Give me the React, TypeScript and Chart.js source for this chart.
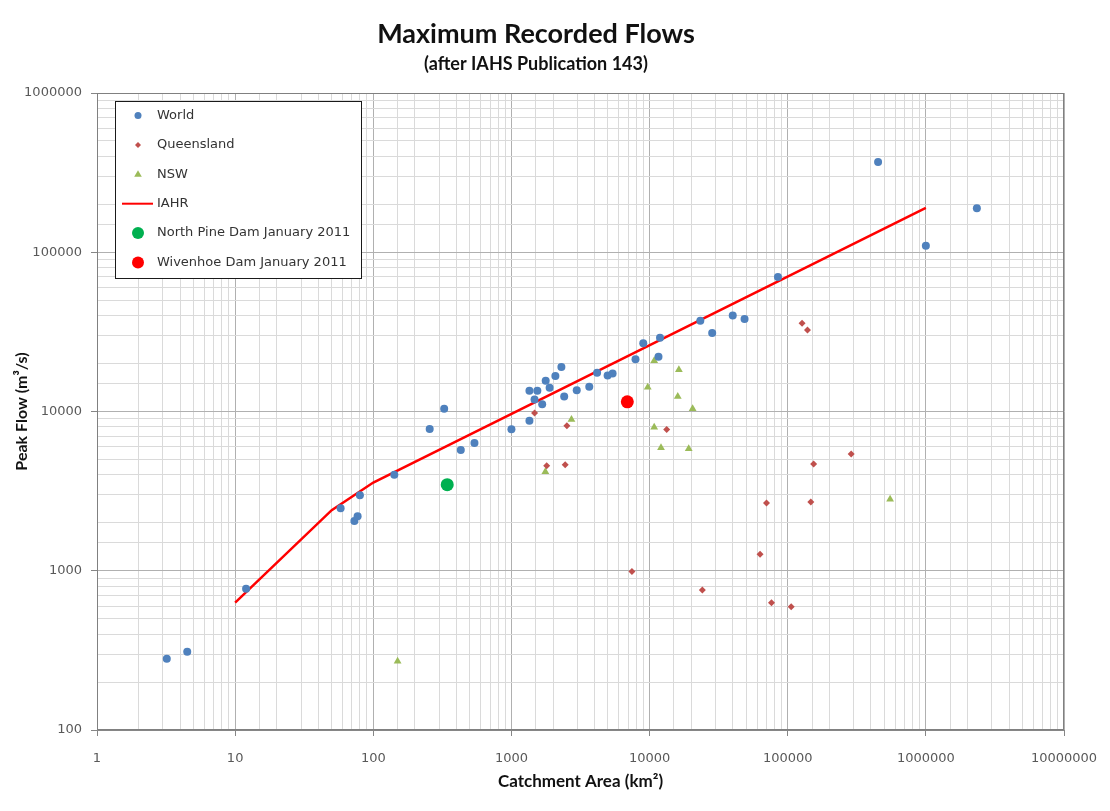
import React, { useEffect, useRef } from 'react';
import { Chart, registerables } from 'chart.js';

Chart.register(...registerables);

// ---- Data (catchment area km², peak flow m³/s) ----
const worldArea = [3.2, 4.5, 12, 58, 73, 77, 80, 142, 256, 326, 430, 540, 1000, 1350, 1350, 1470, 1540, 1670, 1770, 1890, 2080, 2300, 2410, 2970, 3660, 4170, 4970, 5400, 7910, 9000, 11600, 11900, 23300, 28400, 40000, 48700, 85000, 451000, 1000000, 2340000];
const worldFlow = [280, 310, 770, 2470, 2050, 2200, 2980, 4000, 7760, 10400, 5730, 6340, 7730, 8750, 13500, 11900, 13500, 11100, 15600, 14100, 16700, 19000, 12400, 13600, 14300, 17500, 16800, 17300, 21300, 26800, 22100, 29000, 37200, 31100, 40000, 38100, 70000, 369000, 110000, 189000];

const qldArea = [1470, 2520, 13300, 1800, 2450, 127000, 139000, 154000, 288000, 70200, 147000, 63100, 7450, 24100, 76300, 106000];
const qldFlow = [9800, 8150, 7700, 4570, 4630, 35800, 32500, 4680, 5410, 2660, 2700, 1270, 990, 757, 630, 595];

const nswArea = [150, 1760, 2720, 9700, 10800, 16300, 16000, 20500, 10800, 12100, 19200, 551000];
const nswFlow = [270, 4190, 8900, 14200, 20800, 18300, 12400, 10400, 7960, 5930, 5840, 2810];

const iahrArea = [10, 50, 100, 1000000];
const iahrFlow = [630, 2400, 3580, 190000];

const northPineArea = [343];
const northPineFlow = [3470];

const wivenhoeArea = [6900];
const wivenhoeFlow = [11500];

const xMin = 1;
const xMax = 10000000;
const yMin = 100;
const yMax = 1000000;

const titleText = 'Maximum Recorded Flows';
const subtitleText = '(after IAHS Publication 143)';
const xTitle = 'Catchment Area (km²)';
const yTitle = 'Peak Flow (m³/s)';

const toPts = (xs: number[], ys: number[]) => xs.map((x, i) => ({ x, y: ys[i] }));

const isDecade = (v: number) => {
  const l = Math.log10(v);
  return Math.abs(l - Math.round(l)) < 1e-9;
};

function drawMarker(ctx: CanvasRenderingContext2D, style: string, x: number, y: number, r: number, color: string) {
  ctx.fillStyle = color;
  ctx.beginPath();
  if (style === 'circle') {
    ctx.arc(x, y, r, 0, Math.PI * 2);
  } else if (style === 'rectRot') {
    ctx.moveTo(x, y - r);
    ctx.lineTo(x + r, y);
    ctx.lineTo(x, y + r);
    ctx.lineTo(x - r, y);
    ctx.closePath();
  } else if (style === 'triangle') {
    ctx.moveTo(x, y - r);
    ctx.lineTo(x + r * 0.95, y + r * 0.6);
    ctx.lineTo(x - r * 0.95, y + r * 0.6);
    ctx.closePath();
  }
  ctx.fill();
}

const boxLegend = {
  id: 'boxLegend',
  afterDraw(chart: any) {
    const { ctx, chartArea } = chart;
    ctx.save();
    // plot frame
    ctx.strokeStyle = '#808080';
    ctx.lineWidth = 1;
    ctx.strokeRect(chartArea.left + 0.5, chartArea.top + 0.5, chartArea.right - chartArea.left - 1, chartArea.bottom - chartArea.top - 1);

    const x0 = chartArea.left + 18;
    const y0 = chartArea.top + 8;
    const w = 246;
    const h = 177;
    ctx.fillStyle = '#ffffff';
    ctx.fillRect(x0, y0, w, h);
    ctx.strokeStyle = '#1a1a1a';
    ctx.lineWidth = 1;
    ctx.strokeRect(x0 + 0.5, y0 + 0.5, w, h);

    ctx.font = '13px "DejaVu Sans", sans-serif';
    ctx.textBaseline = 'middle';
    ctx.textAlign = 'left';
    chart.data.datasets.forEach((ds: any, i: number) => {
      const cy = y0 + 14.5 + i * 29.4;
      const mx = x0 + 23;
      if (ds.showLine) {
        ctx.strokeStyle = ds.borderColor;
        ctx.lineWidth = 2;
        ctx.beginPath();
        ctx.moveTo(x0 + 7, cy);
        ctx.lineTo(x0 + 38, cy);
        ctx.stroke();
      } else {
        drawMarker(ctx, ds.pointStyle, mx, cy, ds.legendRadius, ds.backgroundColor);
      }
      ctx.fillStyle = '#333333';
      ctx.fillText(ds.label, x0 + 42, cy);
    });
    ctx.restore();
  },
};

export default function App() {
  const ref = useRef<HTMLCanvasElement | null>(null);

  useEffect(() => {
    if (!ref.current) return;
    const gridColor = (c: any) => (c.tick && isDecade(c.tick.value) ? '#b0b0b0' : '#dadada');
    const tickMarkColor = (c: any) => (c.tick && isDecade(c.tick.value) ? '#868686' : 'rgba(0,0,0,0)');
    const chart = new Chart(ref.current, {
      type: 'scatter',
      data: {
        datasets: [
          {
            label: 'World',
            data: toPts(worldArea, worldFlow),
            pointStyle: 'circle',
            pointRadius: 4,
            backgroundColor: '#4F81BD',
            borderColor: '#4F81BD',
            borderWidth: 0,
            legendRadius: 3.5,
          } as any,
          {
            label: 'Queensland',
            data: toPts(qldArea, qldFlow),
            pointStyle: 'rectRot',
            pointRadius: 3.5,
            backgroundColor: '#C0504D',
            borderColor: '#C0504D',
            borderWidth: 0,
            legendRadius: 3,
          } as any,
          {
            label: 'NSW',
            data: toPts(nswArea, nswFlow),
            pointStyle: 'triangle',
            pointRadius: 4.5,
            backgroundColor: '#9BBB59',
            borderColor: '#9BBB59',
            borderWidth: 0,
            legendRadius: 4,
          } as any,
          {
            label: 'IAHR',
            data: toPts(iahrArea, iahrFlow),
            showLine: true,
            pointRadius: 0,
            borderColor: '#FF0000',
            backgroundColor: '#FF0000',
            borderWidth: 2.5,
            legendRadius: 0,
          } as any,
          {
            label: 'North Pine Dam January 2011',
            data: toPts(northPineArea, northPineFlow),
            pointStyle: 'circle',
            pointRadius: 6.5,
            backgroundColor: '#00B050',
            borderColor: '#00B050',
            borderWidth: 0,
            legendRadius: 6,
          } as any,
          {
            label: 'Wivenhoe Dam January 2011',
            data: toPts(wivenhoeArea, wivenhoeFlow),
            pointStyle: 'circle',
            pointRadius: 6.5,
            backgroundColor: '#FF0000',
            borderColor: '#FF0000',
            borderWidth: 0,
            legendRadius: 6,
          } as any,
        ],
      },
      options: {
        animation: false,
        responsive: false,
        layout: { padding: { left: 0, right: 38, top: 0, bottom: 0 } },
        plugins: {
          legend: { display: false },
          tooltip: { enabled: false },
          title: {
            display: true,
            text: titleText,
            color: '#111111',
            font: { family: 'Lato', size: 27, weight: 'bold' },
            padding: { top: 10, bottom: 3 },
          },
          subtitle: {
            display: true,
            text: subtitleText,
            color: '#111111',
            font: { family: 'Lato', size: 18, weight: 'bold' },
            padding: { top: 0, bottom: 18 },
          },
        },
        scales: {
          x: {
            type: 'logarithmic',
            min: xMin,
            max: xMax,
            afterFit: (s: any) => {
              s.height = 73;
              s.paddingLeft = 0;
              s.paddingRight = 0;
            },
            grid: { color: gridColor, tickColor: tickMarkColor, tickLength: 6, lineWidth: 1 },
            border: { color: '#868686', width: 1 },
            ticks: {
              autoSkip: false,
              maxRotation: 0,
              padding: 15,
              color: '#595959',
              font: { family: 'DejaVu Sans', size: 13 },
              callback: (v: any) => (isDecade(Number(v)) ? String(Math.round(Number(v))) : ''),
            },
            title: {
              display: true,
              text: xTitle,
              color: '#111111',
              font: { family: 'Lato', size: 17, weight: 'bold' },
              padding: { top: 0, bottom: 11 },
            },
          },
          y: {
            type: 'logarithmic',
            min: yMin,
            max: yMax,
            afterFit: (s: any) => {
              s.width = 89;
            },
            grid: { color: gridColor, tickColor: tickMarkColor, tickLength: 6, lineWidth: 1 },
            border: { color: '#868686', width: 1 },
            ticks: {
              autoSkip: false,
              padding: 9,
              color: '#595959',
              font: { family: 'DejaVu Sans', size: 13 },
              callback: (v: any) => (isDecade(Number(v)) ? String(Math.round(Number(v))) : ''),
            },
            title: {
              display: true,
              text: yTitle,
              color: '#111111',
              font: { family: 'Lato', size: 16, weight: 'bold' },
              padding: { top: 4, bottom: 0 },
            },
          },
        },
      } as any,
      plugins: [boxLegend],
    });
    return () => chart.destroy();
  }, []);

  return (
    <div style={{ position: 'relative', width: 1094, height: 795 }}>
      <div
        style={{
          position: 'absolute',
          left: -3,
          top: -4,
          width: 1100,
          height: 800,
          borderLeft: '2px solid #b4b4b4',
          borderTop: '2px solid #b4b4b4',
          boxSizing: 'border-box',
          pointerEvents: 'none',
        }}
      />
      <canvas ref={ref} width={1094} height={795} style={{ display: 'block', width: 1094, height: 795 }} />
    </div>
  );
}
